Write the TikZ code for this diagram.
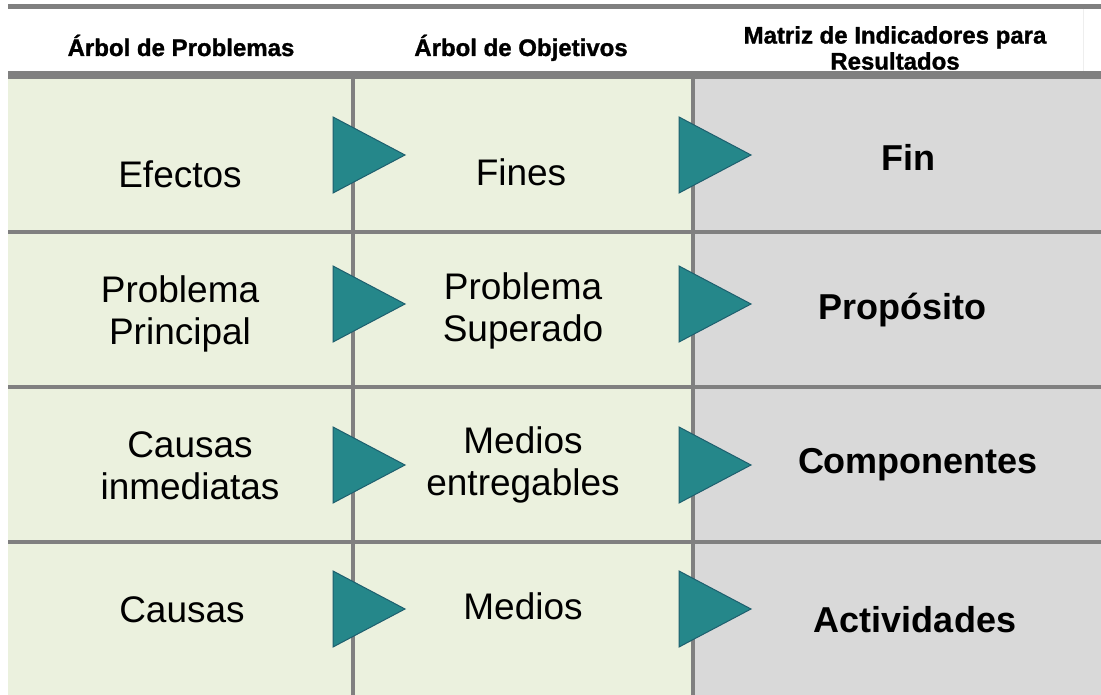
\documentclass[tikz,border=0pt]{standalone}
\usepackage{fontspec}
\setmainfont{Liberation Sans}
\newfontfamily\encfont[FakeBold=1.2]{Liberation Sans Bold}
\usepackage{tikz}
\definecolor{lineagris}{RGB}{128,128,128}
\definecolor{verdeclaro}{RGB}{235,241,222}
\definecolor{grisclaro}{RGB}{217,217,217}
\definecolor{tealrelleno}{RGB}{37,135,138}
\definecolor{tealborde}{RGB}{30,95,110}

\begin{document}
\begin{tikzpicture}[x=1pt,y=-1pt,
		celda/.style={font=\fontsize{37}{42}\selectfont, align=center, inner sep=0pt},
		mir/.style={font=\fontsize{36}{42}\selectfont\bfseries, align=center, inner sep=0pt},
		encabezado/.style={font=\fontsize{24}{26}\selectfont\encfont, align=center, inner sep=0pt},
		rejilla/.style={draw=lineagris, line width=3.5pt},
		flecha/.style={fill=tealrelleno, draw=tealborde, line width=1pt, line join=miter}]
		\useasboundingbox (0,0) rectangle (1101,695);
		%fondos
		\fill[verdeclaro] (8,79) rectangle (693,695);
		\fill[grisclaro] (693,79) rectangle (1101,695);
		\fill[lineagris] (8,4) rectangle (1101,9);
		\fill[lineagris] (8,71) rectangle (1101,79);
		\draw[draw={rgb,255:red,238;green,238;blue,238}, line width=1pt] (1083,9) -- (1083,71);
		%%% rejilla
		\draw[rejilla] (353,79) -- (353,695);
		\draw[rejilla] (693,79) -- (693,695);
		\draw[rejilla] (8,232) -- (1101,232);
		\draw[rejilla] (8,387) -- (1101,387);
		\draw[rejilla] (8,542) -- (1101,542);
		%%% encabezados
		\node[encabezado, anchor=base] (arbolprob) at (181,56) {Árbol de Problemas};
		\node[encabezado, anchor=base] (arbolobj) at (521,56) {Árbol de Objetivos};
		\node[encabezado] (matriz) at (895,48) {Matriz de Indicadores para\\Resultados};
		%%% flechas
		\foreach \y in {155,304,465,609}{
			\draw[flecha] (333,\y-38) -- (405,\y) -- (333,\y+38) -- cycle;
			\draw[flecha] (679,\y-38) -- (751,\y) -- (679,\y+38) -- cycle;
		}
		%%% arbol de problemas
		\node[celda] (efectos) at (180,174) {Efectos};
		\node[celda] (probprincipal) at (180,314) {Problema\\Principal};
		\node[celda] (causasinm) at (190,466) {Causas\\inmediatas};
		\node[celda] (causas) at (182,610) {Causas};
		%%% arbol de objetivos
		\node[celda] (fines) at (521,172) {Fines};
		\node[celda] (probsuperado) at (523,311) {Problema\\Superado};
		\node[celda] (mediosent) at (523,465) {Medios\\entregables};
		\node[celda] (medios) at (523,606) {Medios};
		%%% matriz
		\node[mir] (fin) at (908,157) {Fin};
		\node[mir] (proposito) at (902,310) {Propósito};
		\node[mir] (componentes) at (918,465) {Componentes};
		\node[mir] (actividades) at (915,620) {Actividades};
	\end{tikzpicture}
\end{document}
